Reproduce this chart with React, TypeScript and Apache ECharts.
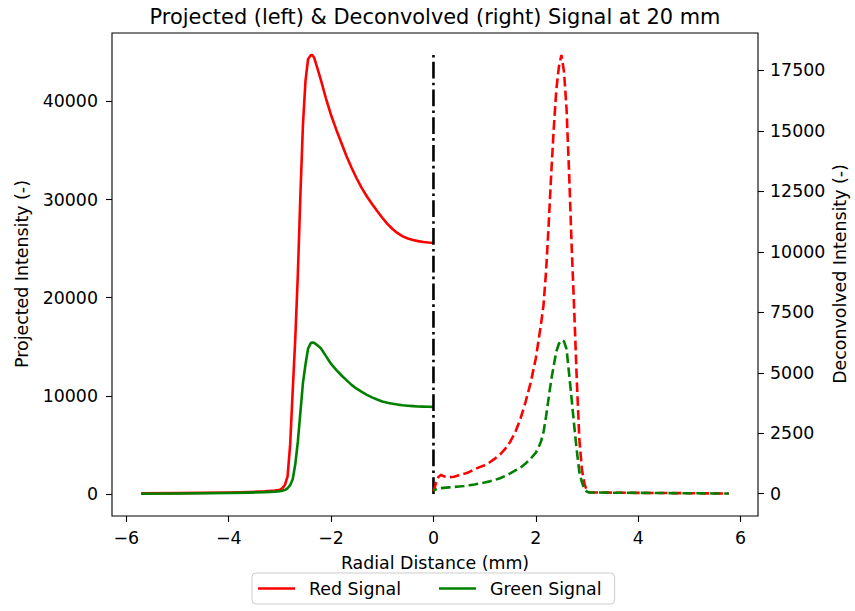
import React, { useEffect, useRef } from "react";
import * as echarts from "echarts";

// Radial positions (mm) for the projected profile (left half)
const xProjected = [
  -5.71, -5.0, -4.5, -4.0, -3.6, -3.3, -3.1, -3.0, -2.95, -2.9, -2.85, -2.8,
  -2.75, -2.7, -2.65, -2.6, -2.55, -2.5, -2.45, -2.4, -2.37, -2.33, -2.28,
  -2.2, -2.1, -2.0, -1.9, -1.8, -1.7, -1.6, -1.5, -1.4, -1.3, -1.2, -1.1,
  -1.0, -0.9, -0.8, -0.7, -0.6, -0.5, -0.4, -0.3, -0.2, -0.1, 0,
];
const redProjected = [
  60, 90, 110, 150, 200, 270, 350, 420, 600, 950, 1800, 5000, 10500, 15800,
  22300, 30400, 37600, 42100, 44300, 44700, 44740, 44450, 43600, 42200, 40300,
  38600, 37150, 35800, 34450, 33250, 32150, 31170, 30320, 29560, 28830, 28150,
  27530, 27000, 26580, 26250, 26030, 25880, 25770, 25680, 25620, 25580,
];
const greenProjected = [
  30, 50, 70, 100, 140, 190, 240, 280, 330, 420, 580, 900, 1500, 3000, 5300,
  8300, 11300, 13200, 14800, 15350, 15440, 15400, 15200, 14850, 14050, 13250,
  12650, 12100, 11600, 11120, 10730, 10400, 10100, 9850, 9630, 9430, 9300,
  9200, 9110, 9040, 8990, 8950, 8920, 8900, 8885, 8878,
];

// Radial positions (mm) for the deconvolved profile (right half)
const xDeconvolved = [
  0, 0.05, 0.1, 0.15, 0.2, 0.3, 0.4, 0.5, 0.6, 0.7, 0.8, 0.9, 1.0, 1.1, 1.2,
  1.3, 1.4, 1.5, 1.6, 1.7, 1.8, 1.9, 2.0, 2.05, 2.1, 2.15, 2.2, 2.25, 2.3,
  2.35, 2.4, 2.45, 2.5, 2.55, 2.6, 2.65, 2.7, 2.75, 2.8, 2.85, 2.9, 2.95, 3.0,
  3.05, 3.2, 3.5, 4.0, 4.5, 5.0, 5.5, 5.77,
];
const redDeconvolved = [
  100, 450, 700, 780, 720, 680, 700, 760, 820, 900, 1000, 1100, 1180, 1300,
  1450, 1620, 1850, 2150, 2550, 3100, 3800, 4600, 5600, 6300, 7000, 7800,
  9200, 11100, 13200, 15100, 16700, 17650, 18140, 17450, 15900, 13250, 10230,
  7570, 4700, 2250, 1000, 400, 110, 55, 50, 45, 35, 28, 20, 12, 8,
];
const greenDeconvolved = [
  130, 180, 215, 230, 240, 260, 280, 300, 320, 350, 380, 420, 460, 510, 570,
  640, 730, 840, 960, 1080, 1250, 1450, 1700, 1900, 2150, 2550, 3200, 3950,
  4700, 5300, 5880, 6200, 6350, 6300, 5980, 4950, 3900, 2800, 1780, 900, 480,
  180, 80, 50, 48, 42, 34, 26, 18, 11, 7,
];

// Centre marker between the two halves
const centreX = [0, 0];
const centreY = [0, 44740];

// Tick values
const xTicks = [-6, -4, -2, 0, 2, 4, 6];
const leftTicks = [0, 10000, 20000, 30000, 40000];
const rightTicks = [0, 2500, 5000, 7500, 10000, 12500, 15000, 17500];

const FONT = "DejaVu Sans";
const FS = 17.4;
const LW = 2.6;

const zip = (xs: number[], ys: number[]) => xs.map((x, i) => [x, ys[i]]);
const fmt = (v: number) => (v < 0 ? "\u2212" + Math.abs(v) : String(v));

export default function App() {
  const ref = useRef<HTMLDivElement>(null);

  useEffect(() => {
    if (!ref.current) return;
    const chart = echarts.init(ref.current, undefined, { renderer: "svg" });

    const tickStyle = { show: true, inside: false, length: 6, lineStyle: { color: "#000", width: 1.1 } };
    const labelStyle = { color: "#000", fontSize: FS, fontFamily: FONT };

    chart.setOption({
      animation: false,
      backgroundColor: "#ffffff",
      textStyle: { fontFamily: FONT },
      grid: {
        left: 112,
        right: 97,
        top: 33,
        bottom: 95,
        show: true,
        borderColor: "#000",
        borderWidth: 1.1,
        backgroundColor: "transparent",
      },
      xAxis: {
        type: "value",
        min: -6.28,
        max: 6.34,
        axisLine: { show: false, onZero: false },
        splitLine: { show: false },
        axisTick: { ...tickStyle, customValues: xTicks },
        axisLabel: { ...labelStyle, margin: 13, customValues: xTicks, formatter: fmt },
      },
      yAxis: [
        {
          type: "value",
          position: "left",
          min: -2243,
          max: 46977,
          axisLine: { show: false, onZero: false },
          splitLine: { show: false },
          axisTick: { ...tickStyle, customValues: leftTicks },
          axisLabel: { ...labelStyle, margin: 14, customValues: leftTicks, formatter: fmt },
        },
        {
          type: "value",
          position: "right",
          min: -922,
          max: 19048,
          axisLine: { show: false, onZero: false },
          splitLine: { show: false },
          axisTick: { ...tickStyle, customValues: rightTicks },
          axisLabel: { ...labelStyle, margin: 12, customValues: rightTicks, formatter: fmt },
        },
      ],
      legend: {
        data: ["Red Signal", "Green Signal"],
        left: 252,
        top: 573,
        orient: "horizontal",
        icon: "rect",
        itemWidth: 37,
        itemHeight: 2.6,
        itemGap: 38,
        padding: [7, 13, 7, 6],
        borderColor: "#cccccc",
        borderWidth: 1,
        borderRadius: 4,
        backgroundColor: "#ffffff",
        selectedMode: false,
        textStyle: { fontSize: FS, color: "#000", fontFamily: FONT, padding: [0, 0, 0, 9] },
      },
      graphic: [
        {
          type: "text",
          x: 435,
          y: 17,
          style: {
            text: "Projected (left) & Deconvolved (right) Signal at 20 mm",
            fontSize: 20.9,
            fontFamily: FONT,
            fill: "#000",
            align: "center",
            verticalAlign: "middle",
          },
        },
        {
          type: "text",
          x: 435,
          y: 563,
          style: {
            text: "Radial Distance (mm)",
            fontSize: FS,
            fontFamily: FONT,
            fill: "#000",
            align: "center",
            verticalAlign: "middle",
          },
        },
        {
          type: "text",
          x: 22,
          y: 274,
          rotation: Math.PI / 2,
          style: {
            text: "Projected Intensity (-)",
            fontSize: FS,
            fontFamily: FONT,
            fill: "#000",
            align: "center",
            verticalAlign: "middle",
          },
        },
        {
          type: "text",
          x: 840,
          y: 274,
          rotation: Math.PI / 2,
          style: {
            text: "Deconvolved Intensity (-)",
            fontSize: FS,
            fontFamily: FONT,
            fill: "#000",
            align: "center",
            verticalAlign: "middle",
          },
        },
      ],
      series: [
        {
          name: "Red Signal",
          type: "line",
          xAxisIndex: 0,
          yAxisIndex: 0,
          data: zip(xProjected, redProjected),
          symbol: "none",
          color: "#ff0000",
          lineStyle: { color: "#ff0000", width: LW, join: "round" },
          z: 2,
        },
        {
          name: "Green Signal",
          type: "line",
          xAxisIndex: 0,
          yAxisIndex: 0,
          data: zip(xProjected, greenProjected),
          symbol: "none",
          color: "#008000",
          lineStyle: { color: "#008000", width: LW, join: "round" },
          z: 3,
        },
        {
          name: "Centre",
          type: "line",
          xAxisIndex: 0,
          yAxisIndex: 0,
          data: zip(centreX, centreY),
          symbol: "none",
          color: "#000000",
          lineStyle: { color: "#000000", width: LW, type: [16.7, 4.2, 2.6, 4.2] },
          z: 4,
        },
        {
          name: "Red Deconvolved",
          type: "line",
          xAxisIndex: 0,
          yAxisIndex: 1,
          data: zip(xDeconvolved, redDeconvolved),
          symbol: "none",
          color: "#ff0000",
          lineStyle: { color: "#ff0000", width: LW, type: [9.7, 4.2] },
          z: 5,
        },
        {
          name: "Green Deconvolved",
          type: "line",
          xAxisIndex: 0,
          yAxisIndex: 1,
          data: zip(xDeconvolved, greenDeconvolved),
          symbol: "none",
          color: "#008000",
          lineStyle: { color: "#008000", width: LW, type: [9.7, 4.2], dashOffset: 6 },
          z: 6,
        },
      ],
    });

    return () => chart.dispose();
  }, []);

  return (
    <div
      ref={ref}
      style={{ position: "fixed", left: 0, top: 0, width: 855, height: 611, background: "#fff" }}
    />
  );
}
